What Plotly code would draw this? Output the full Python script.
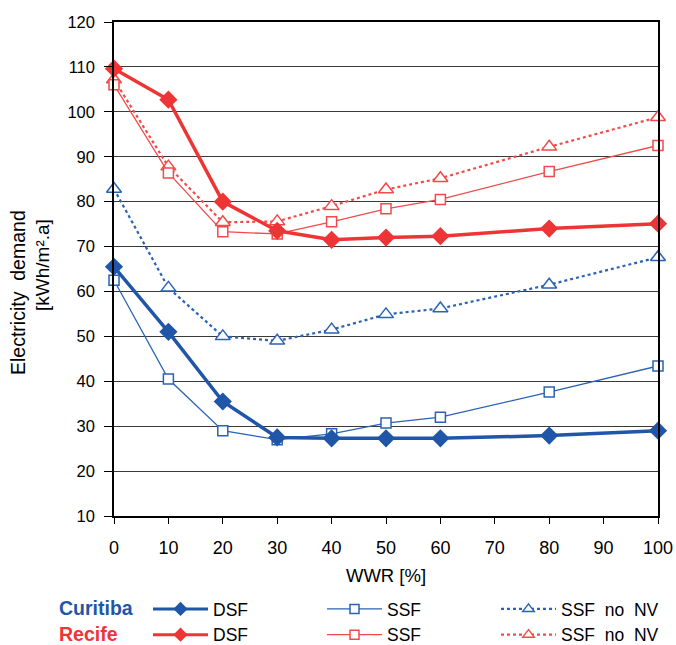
import plotly.graph_objects as go

wwr = [0, 10, 20, 30, 40, 50, 60, 80, 100]

cur_dsf = [65.5, 51.0, 35.5, 27.5, 27.3, 27.3, 27.3, 27.9, 29.0]
cur_ssf = [62.5, 40.5, 29.0, 27.0, 28.3, 30.7, 32.0, 37.6, 43.4]
cur_nonv = [82.8, 60.8, 50.0, 49.0, 51.5, 54.9, 56.2, 61.5, 67.6]

rec_dsf = [109.6, 102.7, 80.0, 73.5, 71.5, 72.0, 72.3, 74.0, 75.1]
rec_ssf = [106.0, 86.4, 73.3, 72.8, 75.5, 78.4, 80.5, 86.7, 92.5]
rec_nonv = [107.2, 87.8, 75.4, 75.6, 79.0, 82.7, 85.2, 92.2, 98.8]

x_ticks = list(range(0, 101, 10))
y_ticks = list(range(10, 121, 10))

BLUE = "#1F56A8"
RED = "#EE3535"
RED_L = "#F24A4A"
BLUE_L = "#2A62B4"

fig = go.Figure()

STYLE = {
    "dsf": (dict(width=3.5), dict(symbol="diamond", size=14), dict(width=3), dict(symbol="diamond", size=11)),
    "ssf": (dict(width=1.3), dict(symbol="square", size=10), dict(width=1.4), dict(symbol="square", size=9)),
    "nonv": (dict(width=2.2, dash="dot"), dict(symbol="triangle-up", size=13), dict(width=2.2, dash="dot"), dict(symbol="triangle-up", size=10)),
}

def marker_for(kind, base, color):
    m = dict(base)
    if kind == "dsf":
        m.update(color=color, line=dict(width=0))
    else:
        m.update(color="white", line=dict(color=color, width=1.5))
    return m

def add(y, name, color, kind, legend):
    line, mk, lline, lmk = STYLE[kind]
    fig.add_trace(go.Scatter(x=wwr, y=y, mode="lines+markers", name=name,
                             line=dict(color=color, **line), marker=marker_for(kind, mk, color),
                             cliponaxis=False, showlegend=False))
    # legend entry (empty trace, smaller legend symbol)
    fig.add_trace(go.Scatter(x=[None], y=[None], mode="lines+markers", name=name,
                             line=dict(color=color, **lline), marker=marker_for(kind, lmk, color),
                             legend=legend, hoverinfo="skip"))

NONV = "SSF\u00a0\u00a0no\u00a0\u00a0NV"
add(cur_nonv, NONV, BLUE_L, "nonv", "legend3")
add(rec_nonv, NONV, RED_L, "nonv", "legend3")
add(cur_ssf, "SSF", BLUE_L, "ssf", "legend2")
add(rec_ssf, "SSF", RED_L, "ssf", "legend2")
add(cur_dsf, "DSF", BLUE, "dsf", "legend")
add(rec_dsf, "DSF", RED, "dsf", "legend")

L, R, T, B = 114, 18, 22, 129
W, H = 676, 645
pw = W - L - R
ph = H - T - B

def px2x(px):
    return (px - L) / pw

def py2y(py):
    return (H - B - py) / ph

FONT = "Liberation Sans, Arial"

leg_common = dict(orientation="v", font=dict(family=FONT, size=17.5, color="black"),
                  bgcolor="rgba(0,0,0,0)", itemwidth=55, yanchor="top", xanchor="left",
                  y=py2y(591), tracegroupgap=0, itemclick=False, itemdoubleclick=False,
                  maxheight=300)

fig.update_layout(
    width=W, height=H,
    margin=dict(l=L, r=R, t=T, b=B, autoexpand=False),
    paper_bgcolor="white", plot_bgcolor="white",
    font=dict(family=FONT, size=16, color="black"),
    showlegend=True,
    legend=dict(x=px2x(148), **leg_common),
    legend2=dict(x=px2x(322), **leg_common),
    legend3=dict(x=px2x(496), **leg_common),
    xaxis=dict(range=[0, 100], tickvals=x_ticks, ticks="outside", ticklen=6,
               tickcolor="black", showline=True, linecolor="black", linewidth=1.5,
               mirror=True, showgrid=False, zeroline=False,
               tickfont=dict(size=18), ticklabelstandoff=9,
               title=dict(text="WWR [%]", font=dict(size=18.5), standoff=12)),
    yaxis=dict(range=[10, 120], tickvals=y_ticks, ticks="outside", ticklen=8,
               tickcolor="black", showline=True, linecolor="black", linewidth=1.5,
               mirror=True, showgrid=True, gridcolor="#3a3a3a", gridwidth=1,
               zeroline=False, tickfont=dict(size=16.5), ticklabelstandoff=6),
    annotations=[
        dict(text="Electricity\u00a0\u00a0demand", x=px2x(18), y=py2y(293), xref="paper", yref="paper",
             xanchor="center", yanchor="middle", showarrow=False, textangle=-90,
             font=dict(size=19.5, color="black", family=FONT)),
        dict(text="[kWh/m\u00b2.a]", x=px2x(42), y=py2y(265), xref="paper", yref="paper",
             xanchor="center", yanchor="middle", showarrow=False, textangle=-90,
             font=dict(size=19, color="black", family=FONT)),
        dict(text="<b>Curitiba</b>", x=px2x(57), y=py2y(608), xref="paper", yref="paper",
             xanchor="left", yanchor="middle", showarrow=False,
             font=dict(size=19.5, color=BLUE, family=FONT)),
        dict(text="<b>Recife</b>", x=px2x(57), y=py2y(634), xref="paper", yref="paper",
             xanchor="left", yanchor="middle", showarrow=False,
             font=dict(size=19.5, color=RED, family=FONT)),
    ],
)

fig.write_html("out.html")
